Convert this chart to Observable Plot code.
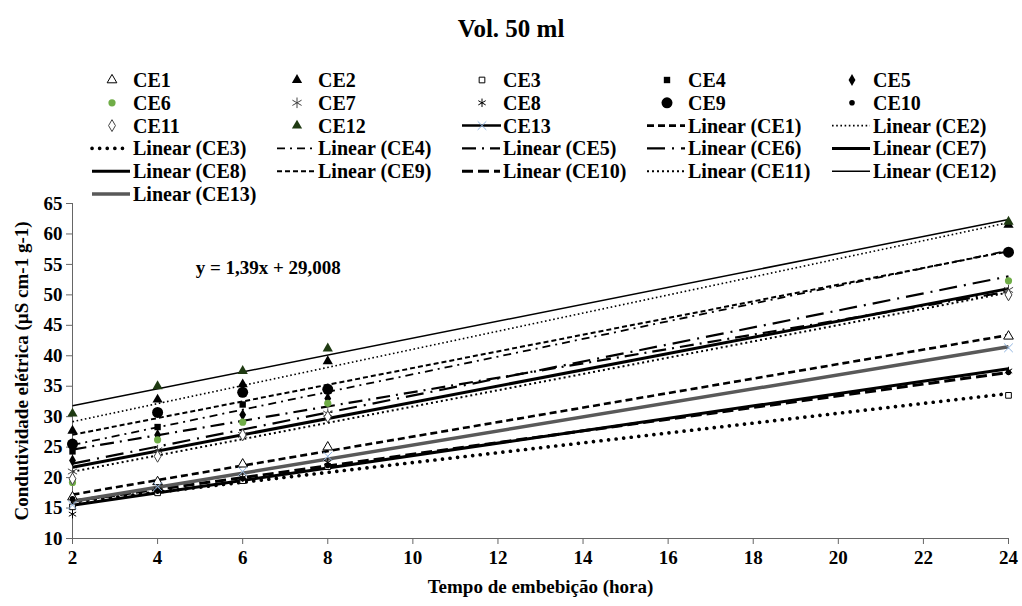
<!DOCTYPE html>
<html><head><meta charset="utf-8">
<script src="https://cdn.jsdelivr.net/npm/d3@7"></script>
<script src="https://cdn.jsdelivr.net/npm/@observablehq/plot@0.6"></script>
<style>
body{margin:0;background:#fff;}
#wrap{position:relative;width:1022px;height:606px;font-family:"Liberation Serif","Times New Roman",serif;overflow:hidden;}
#title{position:absolute;top:15px;left:0;width:1022px;text-align:center;font-weight:bold;font-size:25px;}
#legend{position:absolute;top:0;left:0;}
#chart{position:absolute;top:190px;left:0;}
</style></head><body>
<div id="wrap"><div id="title">Vol. 50 ml</div><svg id="legend" width="1022" height="205"></svg><div id="chart"></div></div>
<script>
// ---- data ----
const hours = [2, 4, 6, 8, 24];
const seriesNames = ["CE1","CE2","CE3","CE4","CE5","CE6","CE7","CE8","CE9","CE10","CE11","CE12","CE13"];
const CE1  = [16.8, 19.3, 22.2, 25.0, 43.2];
const CE2  = [27.7, 32.8, 35.3, 39.1, 61.5];
const CE3  = [15.2, 17.5, 19.5, 21.8, 33.5];
const CE4  = [24.3, 28.3, 32.0, 34.5, 57.0];
const CE5  = [22.8, 27.0, 30.3, 33.0, 50.0];
const CE6  = [19.2, 26.2, 29.1, 32.2, 52.3];
const CE7  = [21.0, 24.5, 27.0, 30.5, 50.8];
const CE8  = [14.0, 18.0, 20.0, 22.5, 37.5];
const CE9  = [25.5, 30.7, 34.0, 34.5, 57.0];
const CE10 = [16.5, 17.8, 19.8, 22.0, 37.3];
const CE11 = [19.8, 23.5, 27.0, 30.0, 50.0];
const CE12 = [30.5, 35.0, 37.5, 41.2, 62.0];
const CE13 = [15.5, 18.5, 21.0, 23.5, 41.3];
const xTicks = [2,4,6,8,10,12,14,16,18,20,22,24];
const yTicks = [10,15,20,25,30,35,40,45,50,55,60,65];
const titleText = "Vol. 50 ml";
const xLabel = "Tempo de embebição (hora)";
const yLabel = "Condutividade elétrica (µS cm-1 g-1)";
const equation = [{x: 6.6, y: 54.5, text: "y = 1,39x + 29,008"}];

const values = {CE1,CE2,CE3,CE4,CE5,CE6,CE7,CE8,CE9,CE10,CE11,CE12,CE13};
const rows = seriesNames.flatMap(s => values[s].map((v, i) => ({series: s, x: hours[i], y: v})));

// ---- styles ----
const markStyle = {
  CE1:  {symbol:"triangle", fill:"white", stroke:"#000", r:3.6},
  CE2:  {symbol:"triangle", fill:"#000", stroke:"none", r:3.8},
  CE3:  {symbol:"square", fill:"white", stroke:"#000", r:3.2},
  CE4:  {symbol:"square", fill:"#000", stroke:"none", r:3.6},
  CE5:  {symbol:"diamond", fill:"#000", stroke:"none", r:3.6},
  CE6:  {symbol:"circle", fill:"#70ad47", stroke:"none", r:3.6},
  CE7:  {symbol:"asterisk", fill:"none", stroke:"#444", r:5},
  CE8:  {symbol:"asterisk", fill:"none", stroke:"#000", r:4},
  CE9:  {symbol:"circle", fill:"#000", stroke:"none", r:5.5},
  CE10: {symbol:"circle", fill:"#000", stroke:"none", r:2.8},
  CE11: {symbol:"diamond", fill:"white", stroke:"#444", r:3.6},
  CE12: {symbol:"triangle", fill:"#1f3a12", stroke:"none", r:3.8},
  CE13: {symbol:"times", fill:"none", stroke:"#8fb4e0", r:4}
};
const lineStyle = {
  CE1:  {stroke:"#000", width:2.6, dash:"7,4", cap:"butt"},
  CE2:  {stroke:"#000", width:1.6, dash:"1.6,2.6", cap:"butt"},
  CE3:  {stroke:"#000", width:3.6, dash:"0.1,7.5", cap:"round"},
  CE4:  {stroke:"#000", width:1.8, dash:"8,5,2,5", cap:"butt"},
  CE5:  {stroke:"#000", width:2.2, dash:"14,6,2,6", cap:"butt"},
  CE6:  {stroke:"#000", width:2.2, dash:"18,7,2,7", cap:"butt"},
  CE7:  {stroke:"#000", width:3, dash:null, cap:"butt"},
  CE8:  {stroke:"#000", width:3, dash:null, cap:"butt"},
  CE9:  {stroke:"#000", width:2, dash:"5,3", cap:"butt"},
  CE10: {stroke:"#000", width:3, dash:"11,5", cap:"butt"},
  CE11: {stroke:"#000", width:2, dash:"2,3", cap:"butt"},
  CE12: {stroke:"#000", width:1.5, dash:null, cap:"butt"},
  CE13: {stroke:"#595959", width:3.5, dash:null, cap:"butt"}
};

// ---- chart ----
const marks = [];
marks.push(Plot.axisY({ticks: yTicks, tickSize: 6, tickPadding: 4, label: yLabel, labelAnchor: "center", labelArrow: "none", labelOffset: 58, fontSize: 19, fontWeight: "bold", stroke: "#666"}));
marks.push(Plot.axisX({ticks: xTicks, tickSize: 6, tickPadding: 6, label: xLabel, labelAnchor: "center", labelArrow: "none", labelOffset: 54, fontSize: 19, fontWeight: "bold", stroke: "#666", tickFormat: d => d}));
marks.push(Plot.ruleY([10], {stroke: "#666"}));
marks.push(Plot.ruleX([2], {stroke: "#666"}));
for (const s of seriesNames) {
  const ls = lineStyle[s];
  marks.push(Plot.linearRegressionY(rows.filter(d => d.series === s), {
    x: "x", y: "y", ci: 0, stroke: ls.stroke, strokeWidth: ls.width,
    strokeDasharray: ls.dash || undefined, strokeLinecap: ls.cap
  }));
}
for (const s of seriesNames) {
  const ms = markStyle[s];
  marks.push(Plot.dot(rows.filter(d => d.series === s), {
    x: "x", y: "y", symbol: () => ms.symbol, r: ms.r, fill: ms.fill, stroke: ms.stroke, strokeWidth: 1
  }));
}
marks.push(Plot.text(equation, {x: "x", y: "y", text: "text", fontSize: 19, fontWeight: "bold", fill: "#000"}));

const chart = Plot.plot({
  width: 1022, height: 416,
  marginLeft: 72, marginRight: 14, marginTop: 13, marginBottom: 68,
  x: {domain: [2, 24]},
  y: {domain: [10, 65]},
  style: {fontFamily: "'Liberation Serif', 'Times New Roman', serif", fontSize: "19px", fontWeight: "bold", color: "#000", background: "transparent"},
  marks
});
document.getElementById("chart").appendChild(chart);
document.getElementById("title").textContent = titleText;

// ---- legend ----
const legendItems = [
  ...seriesNames.map(s => ({kind: "mark", s, label: s})),
  ...seriesNames.map(s => ({kind: "line", s, label: `Linear (${s})`}))
];
const symMap = {triangle: d3.symbolTriangle, square: d3.symbolSquare, diamond: d3.symbolDiamond, circle: d3.symbolCircle, asterisk: d3.symbolAsterisk, times: d3.symbolTimes};
const lg = d3.select("#legend");
legendItems.forEach((it, i) => {
  const col = i % 5, row = Math.floor(i / 5);
  const tx = 133 + 185 * col, ty = 80 + 22.8 * row;
  const g = lg.append("g");
  if (it.kind === "mark") {
    const ms = markStyle[it.s];
    if (it.s === "CE13") g.append("line").attr("x1", tx - 41).attr("x2", tx - 2).attr("y1", ty).attr("y2", ty).attr("stroke", "#000").attr("stroke-width", 2.5);
    g.append("path").attr("d", d3.symbol(symMap[ms.symbol], Math.PI * ms.r * ms.r)())
      .attr("transform", `translate(${tx - 21},${ty})`)
      .attr("fill", ms.fill).attr("stroke", ms.stroke).attr("stroke-width", 1);
  } else {
    const ls = lineStyle[it.s];
    g.append("line").attr("x1", tx - 41).attr("x2", tx - 3).attr("y1", ty).attr("y2", ty)
      .attr("stroke", ls.stroke).attr("stroke-width", ls.width)
      .attr("stroke-dasharray", ls.dash).attr("stroke-linecap", ls.cap);
  }
  g.append("text").attr("x", tx).attr("y", ty).attr("dy", "0.35em")
    .attr("font-family", "'Liberation Serif', 'Times New Roman', serif")
    .attr("font-weight", "bold").attr("font-size", 20).text(it.label);
});
</script>
</body></html>
